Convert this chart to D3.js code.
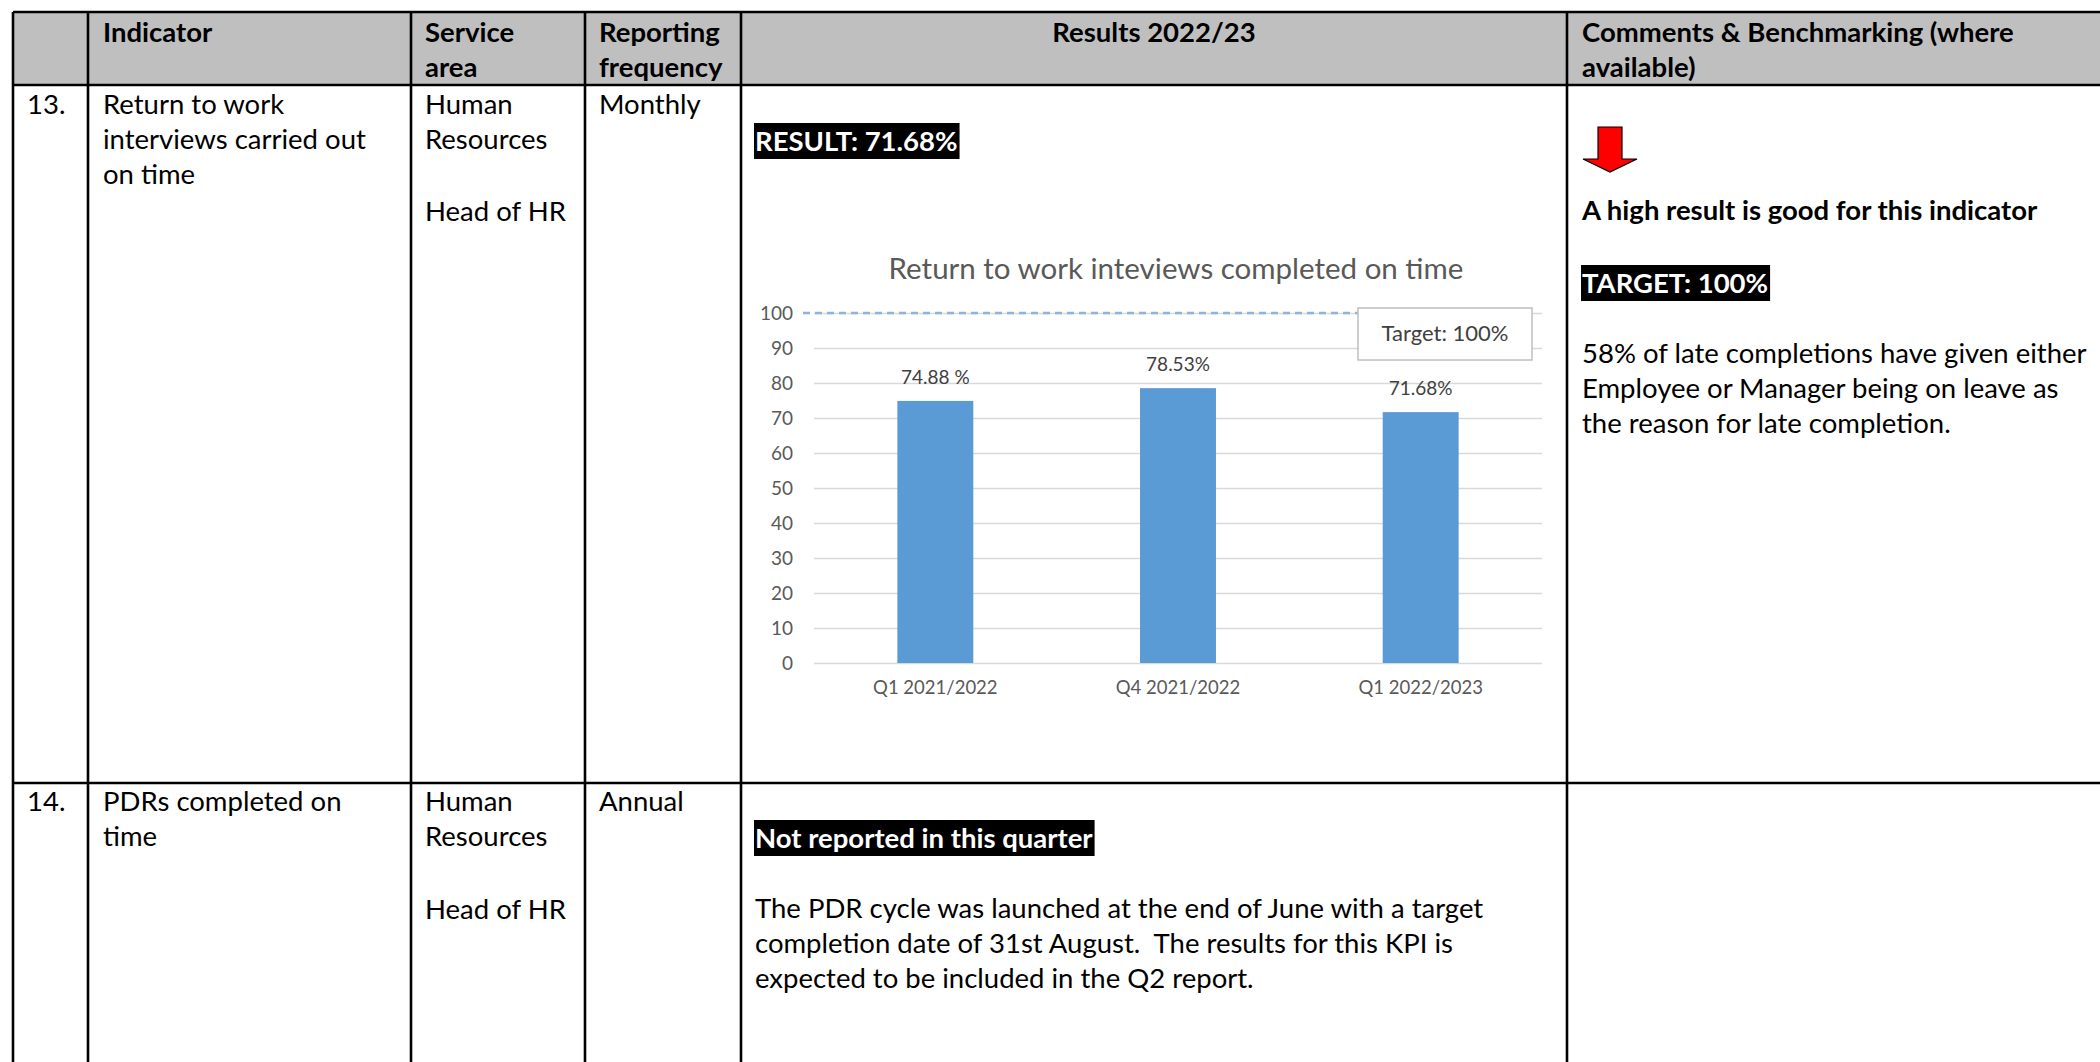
<!DOCTYPE html>
<html>
<head>
<meta charset="utf-8">
<script src="https://cdn.jsdelivr.net/npm/d3@7"></script>
<style>
  body { margin: 0; background: #fff; }
  svg { display: block; }
  text { font-family: Lato, "Open Sans", sans-serif; white-space: pre; }
  .cell { font-size: 27.5px; fill: #000; }
  .bold { font-weight: bold; }
  .tick line { stroke: #d9d9d9; stroke-width: 1.5; }
  .y-labels text { font-size: 19px; fill: #595959; }
  .x-labels text { font-size: 18.5px; fill: #595959; }
</style>
</head>
<body>
<script>
// chart data
var categories = ["Q1 2021/2022", "Q4 2021/2022", "Q1 2022/2023"],
    values = [74.88, 78.53, 71.68],
    valueLabels = ["74.88 %", "78.53%", "71.68%"],
    yTicks = [0, 10, 20, 30, 40, 50, 60, 70, 80, 90, 100],
    target = 100,
    chartTitle = "Return to work inteviews completed on time",
    targetLabel = "Target: 100%";

// table text
var headers = [["Indicator"], ["Service", "area"], ["Reporting", "frequency"],
               ["Results 2022/23"], ["Comments & Benchmarking (where", "available)"]];
var row13 = {
  num: "13.",
  indicator: ["Return to work", "interviews carried out", "on time"],
  area: ["Human", "Resources", "", "Head of HR"],
  freq: "Monthly",
  result: "RESULT: 71.68%",
  note: "A high result is good for this indicator",
  targetText: "TARGET: 100%",
  comment: ["58% of late completions have given either",
            "Employee or Manager being on leave as",
            "the reason for late completion."]
};
var row14 = {
  num: "14.",
  indicator: ["PDRs completed on", "time"],
  area: ["Human", "Resources", "", "Head of HR"],
  freq: "Annual",
  result: "Not reported in this quarter",
  text: ["The PDR cycle was launched at the end of June with a target",
         "completion date of 31st August.  The results for this KPI is",
         "expected to be included in the Q2 report."]
};

var width = 2100, height = 1062;
var colX = [13, 88, 411, 585, 741, 1567],
    rowY = [12, 85, 783],
    lineH = 35;

var svg = d3.select("body").append("svg")
    .attr("width", width)
    .attr("height", height);

// header background
svg.append("rect")
    .attr("x", colX[0]).attr("y", rowY[0])
    .attr("width", width - colX[0]).attr("height", rowY[1] - rowY[0])
    .attr("fill", "#bfbfbf");

// table borders
var borders = svg.append("g").attr("stroke", "#000").attr("stroke-width", 2.6);
colX.forEach(function(x) {
  borders.append("line").attr("x1", x).attr("x2", x).attr("y1", rowY[0]).attr("y2", height);
});
rowY.forEach(function(y) {
  borders.append("line").attr("x1", colX[0]).attr("x2", width).attr("y1", y).attr("y2", y);
});

// multi-line text helper
function lines(x, y, arr, cls) {
  var t = svg.append("text").attr("class", "cell " + (cls || ""));
  arr.forEach(function(s, i) {
    t.append("tspan").attr("x", x).attr("y", y + i * lineH).text(s);
  });
  return t;
}
// white bold text on black highlight
function blackLabel(x, y, h, s) {
  var bg = svg.append("rect").attr("x", x).attr("y", y).attr("height", h).attr("fill", "#000");
  var t = svg.append("text").attr("class", "cell bold").attr("x", x + 1).attr("y", y + h - 8)
      .style("fill", "#fff").text(s);
  bg.attr("width", t.node().getComputedTextLength() + 3);
}

// header texts
lines(103, 42, headers[0], "bold");
lines(425, 42, headers[1], "bold");
lines(599, 42, headers[2], "bold");
lines((colX[4] + colX[5]) / 2, 42, headers[3], "bold").attr("text-anchor", "middle");
lines(1582, 42, headers[4], "bold");

// row 13
lines(27, 114, [row13.num]);
lines(103, 114, row13.indicator);
lines(425, 114, row13.area.slice(0, 2));
lines(425, 221, row13.area.slice(3));
lines(599, 114, [row13.freq]);
blackLabel(754, 123, 36, row13.result);

// red arrow in comments
svg.append("path")
    .attr("d", "M1598,127 L1622,127 L1622,159 L1637,159 L1610,172 L1583,159 L1598,159 Z")
    .attr("fill", "#ff0000").attr("stroke", "#000").attr("stroke-width", 1.2);
lines(1582, 220, [row13.note], "bold");
blackLabel(1581, 265, 36, row13.targetText);
lines(1582, 363, row13.comment);

// row 14
lines(27, 811, [row14.num]);
lines(103, 811, row14.indicator);
lines(425, 811, row14.area.slice(0, 2));
lines(425, 919, row14.area.slice(3));
lines(599, 811, [row14.freq]);
blackLabel(754, 820, 36, row14.result);
lines(755, 918, row14.text);

// ---- bar chart ----
var plotLeft = 814, plotRight = 1542, plotTop = 313, plotBottom = 663;

var x = d3.scaleBand()
    .domain(categories)
    .range([plotLeft, plotRight])
    .paddingInner(0.687)
    .paddingOuter(0.3435);

var y = d3.scaleLinear()
    .domain([0, 100])
    .range([plotBottom, plotTop]);

svg.append("text")
    .attr("x", 1176).attr("y", 279)
    .attr("text-anchor", "middle")
    .style("font-size", "29.5px").style("fill", "#595959")
    .text(chartTitle);

// gridlines
var grid = svg.append("g")
    .attr("transform", "translate(" + plotLeft + ",0)")
    .call(d3.axisLeft(y).tickValues(yTicks).tickSize(-(plotRight - plotLeft)).tickFormat(""));
grid.select(".domain").remove();

// y labels
var yAx = svg.append("g")
    .attr("class", "y-labels")
    .attr("transform", "translate(" + plotLeft + ",0)")
    .call(d3.axisLeft(y).tickValues(yTicks).tickSize(0).tickPadding(21));
yAx.select(".domain").remove();

// x labels
var xAx = svg.append("g")
    .attr("class", "x-labels")
    .attr("transform", "translate(0," + plotBottom + ")")
    .call(d3.axisBottom(x).tickSize(0).tickPadding(18));
xAx.select(".domain").remove();

// bars
svg.append("g").selectAll("rect")
    .data(values)
    .join("rect")
    .attr("x", function(d, i) { return x(categories[i]); })
    .attr("y", function(d) { return y(d); })
    .attr("width", x.bandwidth())
    .attr("height", function(d) { return y(0) - y(d); })
    .attr("fill", "#5b9bd5");

// data labels
svg.append("g").selectAll("text")
    .data(values)
    .join("text")
    .attr("x", function(d, i) { return x(categories[i]) + x.bandwidth() / 2; })
    .attr("y", function(d) { return y(d) - 17; })
    .attr("text-anchor", "middle")
    .style("font-size", "19px").style("fill", "#404040")
    .text(function(d, i) { return valueLabels[i]; });

// target line (runs up to the callout box)
var calloutX = 1358;
svg.append("line")
    .attr("x1", plotLeft - 11).attr("x2", calloutX)
    .attr("y1", y(target)).attr("y2", y(target))
    .attr("stroke", "#8db5e0").attr("stroke-width", 2.5)
    .attr("stroke-dasharray", "7,5");

// target callout
svg.append("rect")
    .attr("x", calloutX).attr("y", 308).attr("width", 174).attr("height", 52)
    .attr("fill", "#fff").attr("stroke", "#bfbfbf").attr("stroke-width", 1.5);
svg.append("text")
    .attr("x", calloutX + 87).attr("y", 341)
    .attr("text-anchor", "middle")
    .style("font-size", "22px").style("fill", "#404040")
    .text(targetLabel);
</script>
</body>
</html>
